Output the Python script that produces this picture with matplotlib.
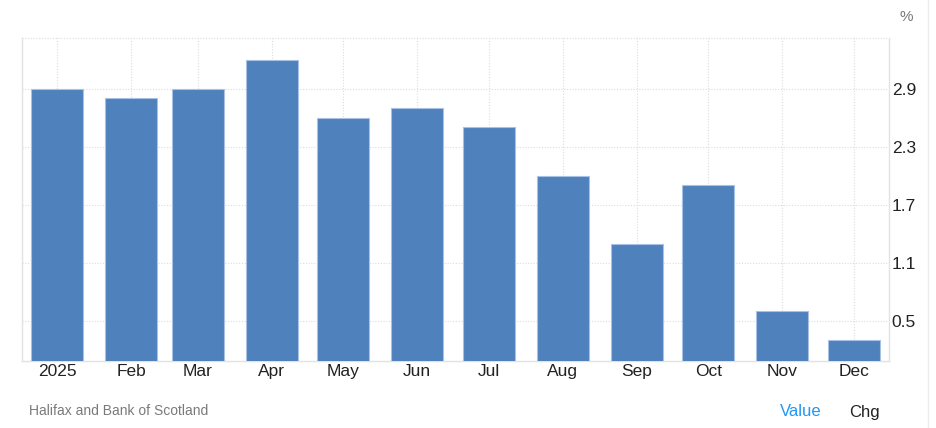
import numpy as np
import pandas as pd
import matplotlib
matplotlib.use("Agg")
import matplotlib.pyplot as plt
import matplotlib.dates as mdates
from matplotlib.lines import Line2D

# ── data ──────────────────────────────────────────────────────────────────────
months = pd.date_range("2025-01-01", periods=12, freq="MS")
month_labels = ["2025", "Feb", "Mar", "Apr", "May", "Jun",
                "Jul", "Aug", "Sep", "Oct", "Nov", "Dec"]
values = [2.9, 2.8, 2.9, 3.2, 2.6, 2.7, 2.5, 2.0, 1.3, 1.9, 0.6, 0.3]
y_ticks = [0.5, 1.1, 1.7, 2.3, 2.9]

BAR_COLOR = "#4f81bd"
GRID_COLOR = "#dcdcdc"
FONT = ["Liberation Sans", "DejaVu Sans"]
plt.rcParams["font.family"] = FONT

W, H = 936, 428
fig = plt.figure(figsize=(W / 100, H / 100), dpi=100)
ax = fig.add_axes([22 / W, (H - 361) / H, (889 - 22) / W, (361 - 38) / H])

x = mdates.date2num(months)
ax.bar(x, values, width=21.8, bottom=0, color=BAR_COLOR,
       edgecolor="#a9c1e2", linewidth=0.8, zorder=3)

ax.set_xlim(x[0] - 14.7, x[-1] + 14.7)
ax.set_ylim(0.085, 3.425)

ax.set_xticks(x)
ax.set_xticklabels(month_labels)
ax.set_yticks(y_ticks)
ax.set_yticklabels([f"{v:.1f}" for v in y_ticks])
ax.yaxis.tick_right()
ax.tick_params(axis="both", length=0, labelsize=12.5, labelcolor="#222222")
ax.tick_params(axis="x", pad=2)
ax.tick_params(axis="y", pad=2)
for lbl in ax.get_yticklabels():
    lbl.set_verticalalignment("center_baseline")

ax.grid(True, color=GRID_COLOR, linestyle=(0, (1, 1.5)), linewidth=0.8, zorder=0)

for side in ["left", "right", "bottom"]:
    ax.spines[side].set_color("#e2e2e2")
    ax.spines[side].set_linewidth(1.0)
ax.spines["top"].set_visible(False)
ax.axhline(3.425, color=GRID_COLOR, linestyle=(0, (1, 1.5)), linewidth=0.8, clip_on=False)

fig.text(906 / W, 1 - 17 / H, "%", fontsize=11, color="#777777", ha="center", va="center")
fig.text(29 / W, 1 - 411 / H, "Halifax and Bank of Scotland", fontsize=10,
         color="#7a7a7a", ha="left", va="center")
fig.text(801 / W, 1 - 412 / H, "Value", fontsize=12, color="#2196f3", ha="center", va="center")
fig.text(864 / W, 1 - 412 / H, "Chg", fontsize=12, color="#222222", ha="center", va="center")

fig.add_artist(Line2D([928 / W, 928 / W], [0, 1], transform=fig.transFigure,
                      color="#ececec", linewidth=1))

fig.savefig("out.png", dpi=100)
